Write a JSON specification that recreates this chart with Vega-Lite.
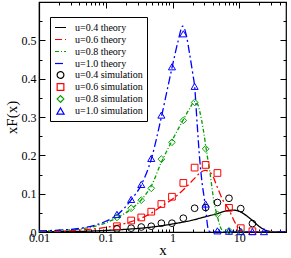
{
  "$schema": "https://vega.github.io/schema/vega-lite/v6.json",
  "width": 247,
  "height": 230,
  "autosize": "none",
  "padding": {"left": 39, "top": 2, "right": 5, "bottom": 26},
  "config": {
    "view": {"stroke": "#000000", "strokeWidth": 1.2},
    "font": "Liberation Serif",
    "axis": {
      "domainColor": "#000000", "domainWidth": 1.2, "tickColor": "#000000", "tickWidth": 1,
      "labelFont": "Liberation Serif", "labelFontSize": 12, "labelColor": "#000000",
      "titleFont": "Liberation Serif", "titleFontSize": 15, "titleFontWeight": "normal", "titleColor": "#000000",
      "grid": false
    },
    "legend": {
      "labelFont": "Liberation Serif", "labelFontSize": 10, "labelColor": "#000000"
    }
  },
  "datasets": {
    "theory": [
      {"s":"u=0.4 theory","x":0.01,"y":0.0005},{"s":"u=0.4 theory","x":0.02,"y":0.001},{"s":"u=0.4 theory","x":0.05,"y":0.002},{"s":"u=0.4 theory","x":0.1,"y":0.004},{"s":"u=0.4 theory","x":0.2,"y":0.007},{"s":"u=0.4 theory","x":0.5,"y":0.013},{"s":"u=0.4 theory","x":1,"y":0.021},{"s":"u=0.4 theory","x":2,"y":0.031},{"s":"u=0.4 theory","x":3,"y":0.039},{"s":"u=0.4 theory","x":4.7,"y":0.048},{"s":"u=0.4 theory","x":6,"y":0.054},{"s":"u=0.4 theory","x":8,"y":0.057},{"s":"u=0.4 theory","x":10,"y":0.054},{"s":"u=0.4 theory","x":12,"y":0.046},{"s":"u=0.4 theory","x":15.7,"y":0.03},{"s":"u=0.4 theory","x":20,"y":0.014},{"s":"u=0.4 theory","x":25,"y":0.004},{"s":"u=0.4 theory","x":30,"y":0.001},{"s":"u=0.4 theory","x":35,"y":0},{"s":"u=0.4 theory","x":50,"y":0},
      {"s":"u=0.6 theory","x":0.01,"y":0.001},{"s":"u=0.6 theory","x":0.02,"y":0.002},{"s":"u=0.6 theory","x":0.05,"y":0.006},{"s":"u=0.6 theory","x":0.1,"y":0.012},{"s":"u=0.6 theory","x":0.147,"y":0.017},{"s":"u=0.6 theory","x":0.24,"y":0.027},{"s":"u=0.6 theory","x":0.34,"y":0.036},{"s":"u=0.6 theory","x":0.48,"y":0.049},{"s":"u=0.6 theory","x":0.68,"y":0.067},{"s":"u=0.6 theory","x":0.98,"y":0.085},{"s":"u=0.6 theory","x":1.45,"y":0.11},{"s":"u=0.6 theory","x":2.14,"y":0.14},{"s":"u=0.6 theory","x":2.6,"y":0.155},{"s":"u=0.6 theory","x":3.1,"y":0.161},{"s":"u=0.6 theory","x":3.9,"y":0.15},{"s":"u=0.6 theory","x":4.6,"y":0.12},{"s":"u=0.6 theory","x":5.6,"y":0.085},{"s":"u=0.6 theory","x":7,"y":0.058},{"s":"u=0.6 theory","x":8.3,"y":0.03},{"s":"u=0.6 theory","x":10,"y":0.007},{"s":"u=0.6 theory","x":11,"y":0.001},{"s":"u=0.6 theory","x":12,"y":0},{"s":"u=0.6 theory","x":50,"y":0},
      {"s":"u=0.8 theory","x":0.01,"y":0.002},{"s":"u=0.8 theory","x":0.02,"y":0.004},{"s":"u=0.8 theory","x":0.05,"y":0.01},{"s":"u=0.8 theory","x":0.1,"y":0.024},{"s":"u=0.8 theory","x":0.147,"y":0.037},{"s":"u=0.8 theory","x":0.24,"y":0.06},{"s":"u=0.8 theory","x":0.34,"y":0.084},{"s":"u=0.8 theory","x":0.48,"y":0.12},{"s":"u=0.8 theory","x":0.68,"y":0.182},{"s":"u=0.8 theory","x":0.98,"y":0.238},{"s":"u=0.8 theory","x":1.45,"y":0.293},{"s":"u=0.8 theory","x":1.8,"y":0.322},{"s":"u=0.8 theory","x":2.14,"y":0.34},{"s":"u=0.8 theory","x":2.35,"y":0.335},{"s":"u=0.8 theory","x":2.55,"y":0.315},{"s":"u=0.8 theory","x":2.9,"y":0.265},{"s":"u=0.8 theory","x":3.2,"y":0.215},{"s":"u=0.8 theory","x":3.65,"y":0.152},{"s":"u=0.8 theory","x":4.17,"y":0.08},{"s":"u=0.8 theory","x":4.7,"y":0.04},{"s":"u=0.8 theory","x":5.2,"y":0.013},{"s":"u=0.8 theory","x":5.7,"y":0.002},{"s":"u=0.8 theory","x":6.2,"y":0},{"s":"u=0.8 theory","x":50,"y":0},
      {"s":"u=1.0 theory","x":0.01,"y":0.003},{"s":"u=1.0 theory","x":0.02,"y":0.005},{"s":"u=1.0 theory","x":0.05,"y":0.012},{"s":"u=1.0 theory","x":0.1,"y":0.028},{"s":"u=1.0 theory","x":0.147,"y":0.044},{"s":"u=1.0 theory","x":0.24,"y":0.084},{"s":"u=1.0 theory","x":0.34,"y":0.123},{"s":"u=1.0 theory","x":0.48,"y":0.19},{"s":"u=1.0 theory","x":0.68,"y":0.3},{"s":"u=1.0 theory","x":0.98,"y":0.428},{"s":"u=1.0 theory","x":1.2,"y":0.495},{"s":"u=1.0 theory","x":1.42,"y":0.537},{"s":"u=1.0 theory","x":1.6,"y":0.515},{"s":"u=1.0 theory","x":1.8,"y":0.465},{"s":"u=1.0 theory","x":2.0,"y":0.415},{"s":"u=1.0 theory","x":2.14,"y":0.38},{"s":"u=1.0 theory","x":2.34,"y":0.28},{"s":"u=1.0 theory","x":2.55,"y":0.19},{"s":"u=1.0 theory","x":2.76,"y":0.13},{"s":"u=1.0 theory","x":3.0,"y":0.085},{"s":"u=1.0 theory","x":3.2,"y":0.045},{"s":"u=1.0 theory","x":3.35,"y":0.015},{"s":"u=1.0 theory","x":3.5,"y":0.003},{"s":"u=1.0 theory","x":3.8,"y":0},{"s":"u=1.0 theory","x":50,"y":0}
    ],
    "sim": [
      {"s":"u=0.4 simulation","x":0.147,"y":0.008},{"s":"u=0.4 simulation","x":0.24,"y":0.01},{"s":"u=0.4 simulation","x":0.34,"y":0.013},{"s":"u=0.4 simulation","x":0.48,"y":0.015},{"s":"u=0.4 simulation","x":0.68,"y":0.023},{"s":"u=0.4 simulation","x":0.98,"y":0.023},{"s":"u=0.4 simulation","x":1.45,"y":0.036},{"s":"u=0.4 simulation","x":2.14,"y":0.062},{"s":"u=0.4 simulation","x":3.13,"y":0.064},{"s":"u=0.4 simulation","x":4.7,"y":0.077},{"s":"u=0.4 simulation","x":7.0,"y":0.088},{"s":"u=0.4 simulation","x":10.5,"y":0.061},{"s":"u=0.4 simulation","x":15.7,"y":0.022},
      {"s":"u=0.6 simulation","x":0.147,"y":0.015},{"s":"u=0.6 simulation","x":0.24,"y":0.03},{"s":"u=0.6 simulation","x":0.34,"y":0.038},{"s":"u=0.6 simulation","x":0.48,"y":0.053},{"s":"u=0.6 simulation","x":0.68,"y":0.073},{"s":"u=0.6 simulation","x":0.98,"y":0.092},{"s":"u=0.6 simulation","x":1.45,"y":0.128},{"s":"u=0.6 simulation","x":2.14,"y":0.168},{"s":"u=0.6 simulation","x":3.13,"y":0.175},{"s":"u=0.6 simulation","x":4.7,"y":0.154},{"s":"u=0.6 simulation","x":7.0,"y":0.063},{"s":"u=0.6 simulation","x":10.5,"y":0.01},{"s":"u=0.6 simulation","x":15.7,"y":0.002},
      {"s":"u=0.8 simulation","x":0.147,"y":0.038},{"s":"u=0.8 simulation","x":0.24,"y":0.062},{"s":"u=0.8 simulation","x":0.34,"y":0.083},{"s":"u=0.8 simulation","x":0.48,"y":0.114},{"s":"u=0.8 simulation","x":0.68,"y":0.19},{"s":"u=0.8 simulation","x":0.98,"y":0.234},{"s":"u=0.8 simulation","x":1.45,"y":0.291},{"s":"u=0.8 simulation","x":2.14,"y":0.338},{"s":"u=0.8 simulation","x":3.13,"y":0.217},{"s":"u=0.8 simulation","x":4.7,"y":0.046},{"s":"u=0.8 simulation","x":7.0,"y":0.003},{"s":"u=0.8 simulation","x":10.5,"y":0.001},
      {"s":"u=1.0 simulation","x":0.147,"y":0.046},{"s":"u=1.0 simulation","x":0.24,"y":0.085},{"s":"u=1.0 simulation","x":0.34,"y":0.124},{"s":"u=1.0 simulation","x":0.48,"y":0.192},{"s":"u=1.0 simulation","x":0.68,"y":0.305},{"s":"u=1.0 simulation","x":0.98,"y":0.431},{"s":"u=1.0 simulation","x":1.45,"y":0.517},{"s":"u=1.0 simulation","x":2.14,"y":0.38},{"s":"u=1.0 simulation","x":3.13,"y":0.073},{"s":"u=1.0 simulation","x":4.7,"y":0.003},{"s":"u=1.0 simulation","x":7.0,"y":0.002},{"s":"u=1.0 simulation","x":10.5,"y":0.001},{"s":"u=1.0 simulation","x":15.7,"y":0.001},{"s":"u=1.0 simulation","x":23.4,"y":0.001}
    ]
  },
  "layer": [
    {
      "data": {"name": "theory"},
      "mark": {"type": "line", "interpolate": "monotone", "strokeWidth": 1.3, "clip": true},
      "encoding": {
        "x": {"field": "x", "type": "quantitative",
          "scale": {"type": "log", "domain": [0.01, 50], "nice": false},
          "axis": {"orient": "bottom", "title": "x", "titleY": 22, "titleBaseline": "alphabetic",
            "values": [0.01,0.02,0.03,0.04,0.05,0.06,0.07,0.08,0.09,0.1,0.2,0.3,0.4,0.5,0.6,0.7,0.8,0.9,1,2,3,4,5,6,7,8,9,10,20,30,40,50],
            "labelExpr": "indexof([0.01,0.1,1,10], datum.value) >= 0 ? format(datum.value, '~g') : ''",
            "tickSize": {"condition": {"test": "indexof([0.01,0.1,1,10], datum.value) >= 0", "value": -6}, "value": -3},
            "labelPadding": 6, "labelFlush": false, "labelOverlap": false}},
        "y": {"field": "y", "type": "quantitative",
          "scale": {"domain": [0, 0.6], "nice": false},
          "axis": {"orient": "left", "title": "xF(x)", "titlePadding": 2,
            "values": [0,0.05,0.1,0.15,0.2,0.25,0.3,0.35,0.4,0.45,0.5,0.55,0.6],
            "labelExpr": "(round(datum.value*100) % 10 == 0 && datum.value < 0.55) ? format(datum.value, '.1~f') : ''",
            "tickSize": {"condition": {"test": "round(datum.value*100) % 10 == 0", "value": -6}, "value": -3},
            "labelPadding": 9, "labelOverlap": false}},
        "color": {"field": "s", "type": "nominal",
          "scale": {"domain": ["u=0.4 theory","u=0.6 theory","u=0.8 theory","u=1.0 theory","u=0.4 simulation","u=0.6 simulation","u=0.8 simulation","u=1.0 simulation"],
                    "range": ["#000000","#ff0000","#00a000","#0000ff","#000000","#ff0000","#00a000","#0000ff"]},
          "legend": {"title": null, "orient": "none", "legendX": 11, "legendY": 15,
            "strokeColor": "#000000", "fillColor": "#ffffff", "cornerRadius": 0,
            "padding": 4, "rowPadding": 0, "labelOffset": 8, "symbolStrokeWidth": 1.2,
            "encode": {"symbols": {"update": {"strokeDash": {"signal": "datum.value === 'u=0.6 theory' ? [7,3,2,3] : datum.value === 'u=0.8 theory' ? [4,2,1,2] : datum.value === 'u=1.0 theory' ? [8,3,2,3] : [1,0]"}}}}}},
        "strokeDash": {
          "condition": [
            {"test": "datum.s === 'u=0.6 theory'", "value": [7,3,2,3]},
            {"test": "datum.s === 'u=0.8 theory'", "value": [4,2,1,2]},
            {"test": "datum.s === 'u=1.0 theory'", "value": [8,3,2,3]}
          ],
          "value": [1,0]}
      }
    },
    {
      "data": {"name": "sim"},
      "mark": {"type": "point", "filled": false, "strokeWidth": 1, "opacity": 1},
      "encoding": {
        "x": {"field": "x", "type": "quantitative",
          "axis": {"orient": "top", "title": null, "labels": false, "domain": false,
            "values": [0.01,0.02,0.03,0.04,0.05,0.06,0.07,0.08,0.09,0.1,0.2,0.3,0.4,0.5,0.6,0.7,0.8,0.9,1,2,3,4,5,6,7,8,9,10,20,30,40,50],
            "tickSize": {"condition": {"test": "indexof([0.01,0.1,1,10], datum.value) >= 0", "value": -6}, "value": -3}}},
        "y": {"field": "y", "type": "quantitative",
          "axis": {"orient": "right", "title": null, "labels": false, "domain": false,
            "values": [0,0.05,0.1,0.15,0.2,0.25,0.3,0.35,0.4,0.45,0.5,0.55,0.6],
            "tickSize": {"condition": {"test": "round(datum.value*100) % 10 == 0", "value": -6}, "value": -3}}},
        "color": {"field": "s", "type": "nominal"},
        "shape": {"field": "s", "type": "nominal",
          "scale": {"domain": ["u=0.4 theory","u=0.6 theory","u=0.8 theory","u=1.0 theory","u=0.4 simulation","u=0.6 simulation","u=0.8 simulation","u=1.0 simulation"],
                    "range": ["stroke","stroke","stroke","stroke","circle","square","diamond","triangle-up"]},
          "legend": {"title": null, "orient": "none", "legendX": 11, "legendY": 15}},
        "size": {"field": "s", "type": "nominal",
          "scale": {"type": "ordinal", "domain": ["u=0.4 theory","u=0.6 theory","u=0.8 theory","u=1.0 theory","u=0.4 simulation","u=0.6 simulation","u=0.8 simulation","u=1.0 simulation"],
                    "range": [121,121,121,121,45,45,45,50]},
          "legend": {"title": null, "orient": "none", "legendX": 11, "legendY": 15}}
      }
    }
  ],
  "resolve": {"axis": {"x": "independent", "y": "independent"}}
}
